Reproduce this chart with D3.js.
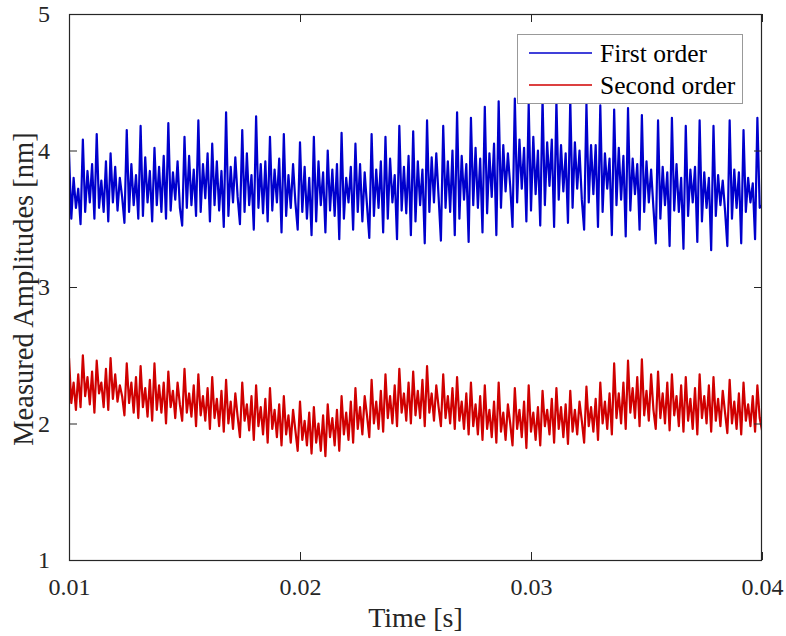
<!DOCTYPE html>
<html>
<head>
<meta charset="utf-8">
<script src="https://cdn.jsdelivr.net/npm/d3@7"></script>
<style>
  html, body { margin: 0; padding: 0; background: #fff; }
  svg { display: block; }
</style>
</head>
<body>
<svg id="chart" width="786" height="636"></svg>
<script>
// ---- data ----
const timeStart = 0.01;
const timeStep = 0.0001;
const xTicks = [0.01, 0.02, 0.03, 0.04];
const xTickLabels = ["0.01", "0.02", "0.03", "0.04"];
const yTicks = [1, 2, 3, 4, 5];
const yTickLabels = ["1", "2", "3", "4", "5"];
const seriesNames = ["First order", "Second order"];

const firstOrder = [
  3.98,3.50,3.80,3.58,3.72,3.46, 4.08,3.55,3.85,3.62,3.90,3.50, 4.12,3.58,3.78,3.55,3.92,3.48,
  3.98,3.62,3.88,3.56,3.80,3.66,3.47, 4.15,3.55,3.90,3.60,3.82,3.50,
  4.18,3.52,3.95,3.62,3.85,3.48, 4.02,3.60,3.88,3.55,3.96,3.50, 4.20,3.56,3.84,3.64,3.92,3.58,3.45,
  4.10,3.58,3.96,3.60,3.86,3.52, 4.22,3.55,3.90,3.65,3.98,3.48,
  4.05,3.60,3.92,3.56,3.85,3.44, 4.28,3.52,3.88,3.62,3.95,3.66,3.46, 4.15,3.55,3.98,3.60,3.82,3.42,
  4.25,3.58,3.90,3.54,3.92,3.48, 4.10,3.56,3.86,3.62,3.94,3.40,
  4.12,3.52,3.82,3.58,3.90,3.62,3.42, 4.06,3.55,3.88,3.50,3.80,3.38, 4.10,3.48,3.92,3.60,3.84,3.40,
  4.00,3.56,3.86,3.52,3.90,3.35, 4.13,3.50,3.80,3.62,3.88,3.42,
  4.05,3.55,3.90,3.48,3.84,3.60,3.36, 4.12,3.52,3.86,3.58,3.92,3.40, 4.10,3.50,3.94,3.62,3.82,3.35,
  4.18,3.56,3.88,3.54,3.96,3.38, 4.14,3.48,3.92,3.60,3.86,3.32,
  4.22,3.55,3.95,3.62,3.98,3.66,3.34, 4.18,3.58,3.92,3.55,4.00,3.38, 4.28,3.50,3.96,3.64,3.90,3.33,
  4.24,3.60,4.02,3.58,3.94,3.40, 4.32,3.54,3.98,3.66,4.05,3.38,
  4.36,3.58,4.04,3.70,3.98,3.74,3.44, 4.38,3.62,4.08,3.72,4.02,3.48, 4.34,3.56,4.10,3.68,4.00,3.45,
  4.38,3.60,4.06,3.74,4.08,3.44, 4.36,3.64,4.04,3.70,3.98,3.47,
  4.37,3.58,4.06,3.72,4.00,3.64,3.42, 4.34,3.62,4.04,3.68,4.04,3.44, 4.33,3.55,3.98,3.72,3.94,3.38,
  4.30,3.60,4.02,3.64,3.96,3.37, 4.31,3.56,3.94,3.68,3.90,3.42,
  4.26,3.55,3.92,3.62,3.86,3.58,3.32, 4.22,3.50,3.88,3.60,3.84,3.30, 4.24,3.56,3.90,3.55,3.80,3.28,
  4.18,3.52,3.86,3.62,3.88,3.33, 4.22,3.48,3.84,3.58,3.80,3.27,
  4.18,3.52,3.82,3.60,3.78,3.56,3.30, 4.22,3.50,3.86,3.58,3.84,3.32, 4.15,3.55,3.80,3.62,3.76,3.35,
  4.24,3.58,3.60
];

const secondOrder = [
  2.48,2.15,2.30,2.10,2.36,2.12, 2.50,2.20,2.34,2.14,2.38,2.08, 2.46,2.22,2.30,2.12,2.40,2.10,
  2.48,2.18,2.36,2.16,2.28,2.20,2.06, 2.44,2.15,2.30,2.08,2.34,2.04,
  2.42,2.12,2.26,2.05,2.32,2.02, 2.44,2.10,2.28,2.08,2.30,2.00, 2.38,2.12,2.24,2.04,2.30,2.14,2.02,
  2.40,2.08,2.22,2.05,2.28,1.98, 2.36,2.06,2.20,2.02,2.26,1.96,
  2.34,2.04,2.18,1.98,2.24,1.94, 2.32,2.00,2.16,1.96,2.22,2.05,1.90, 2.30,2.02,2.14,1.95,2.20,1.88,
  2.28,1.98,2.12,1.92,2.18,1.86, 2.26,1.96,2.10,1.90,2.14,1.84,
  2.20,1.92,2.06,1.86,2.10,1.95,1.80, 2.16,1.88,2.02,1.84,2.08,1.78, 2.12,1.86,2.00,1.80,2.06,1.76,
  2.14,1.90,2.04,1.84,2.10,1.80, 2.20,1.92,2.08,1.88,2.16,1.86,
  2.26,1.96,2.12,1.92,2.20,2.06,1.90, 2.32,2.00,2.16,1.96,2.24,1.94, 2.36,2.04,2.20,2.00,2.28,1.98,
  2.40,2.08,2.22,2.02,2.30,2.00, 2.38,2.06,2.24,2.04,2.32,1.98,
  2.42,2.08,2.22,2.02,2.28,2.12,1.98, 2.36,2.04,2.20,2.00,2.26,1.96, 2.34,2.02,2.16,1.96,2.22,1.92,
  2.30,1.98,2.14,1.92,2.20,1.88, 2.28,1.96,2.10,1.90,2.16,1.86,
  2.30,1.94,2.08,1.88,2.14,2.00,1.84, 2.26,1.96,2.10,1.90,2.16,1.82, 2.28,1.94,2.08,1.88,2.12,1.84,
  2.24,1.98,2.10,1.92,2.18,1.86, 2.26,1.96,2.12,1.90,2.14,1.85,
  2.24,1.94,2.10,1.92,2.16,2.02,1.86, 2.27,1.98,2.12,1.94,2.18,1.88, 2.30,2.00,2.16,1.96,2.22,1.92,
  2.44,2.04,2.22,2.00,2.30,1.96, 2.46,2.08,2.26,2.04,2.34,1.98,
  2.47,2.06,2.24,2.02,2.36,2.10,1.96, 2.38,2.04,2.22,2.00,2.30,1.95, 2.36,2.06,2.20,1.98,2.28,1.94,
  2.34,2.02,2.18,1.96,2.26,1.92, 2.36,2.04,2.20,2.00,2.28,1.94,
  2.34,2.02,2.18,1.98,2.24,2.08,1.93, 2.32,2.00,2.16,1.96,2.22,1.92, 2.30,2.02,2.14,1.98,2.20,1.94,
  2.28,2.04,1.95
];

const seriesColors = ["#0000cd", "#d00000"];

// ---- layout ----
const W = 786, H = 636;
const m = { left: 69, right: 762, top: 14, bottom: 560 };
const axisColor = "#262626";
const fontFamily = "'Liberation Serif', 'Times New Roman', serif";

const svg = d3.select("#chart");
svg.append("rect").attr("width", W).attr("height", H).attr("fill", "#fff");

const x = d3.scaleLinear().domain([0.01, 0.04]).range([m.left, m.right]);
const y = d3.scaleLinear().domain([1, 5]).range([m.bottom, m.top]);

svg.append("defs").append("clipPath").attr("id", "clip")
  .append("rect").attr("x", m.left).attr("y", m.top)
  .attr("width", m.right - m.left).attr("height", m.bottom - m.top);

const line = d3.line()
  .x((d, i) => x(timeStart + i * timeStep))
  .y(d => y(d));

const plot = svg.append("g").attr("clip-path", "url(#clip)");
[firstOrder, secondOrder].forEach((s, k) => {
  plot.append("path").datum(s)
    .attr("d", line)
    .attr("fill", "none")
    .attr("stroke", seriesColors[k])
    .attr("stroke-width", 2.2)
    .attr("stroke-linejoin", "round");
});

// axes with inward ticks
const tickLen = 8;
const fmtX = (d, i) => xTickLabels[i];
const fmtY = (d, i) => yTickLabels[i];

function styleAxis(g) {
  g.attr("font-family", fontFamily).attr("font-size", 24);
  g.select(".domain").remove();
  g.selectAll(".tick line").attr("stroke", axisColor).attr("stroke-width", 1);
  g.selectAll(".tick text").attr("fill", "#262626")
    .style("font-family", fontFamily).style("font-size", "24px");
}

svg.append("g").attr("transform", `translate(0,${m.bottom})`)
  .call(d3.axisBottom(x).tickValues(xTicks).tickFormat(fmtX).tickSizeInner(-tickLen).tickSizeOuter(0).tickPadding(tickLen + 10))
  .call(styleAxis);

svg.append("g").attr("transform", `translate(0,${m.top})`)
  .call(d3.axisTop(x).tickValues(xTicks).tickFormat("").tickSizeInner(-tickLen).tickSizeOuter(0))
  .call(styleAxis);

svg.append("g").attr("transform", `translate(${m.left},0)`)
  .call(d3.axisLeft(y).tickValues(yTicks).tickFormat(fmtY).tickSizeInner(-tickLen).tickSizeOuter(0).tickPadding(tickLen + 11))
  .call(styleAxis);

svg.append("g").attr("transform", `translate(${m.right},0)`)
  .call(d3.axisRight(y).tickValues(yTicks).tickFormat("").tickSizeInner(-tickLen).tickSizeOuter(0))
  .call(styleAxis);

// box
svg.append("rect")
  .attr("x", m.left + 0.5).attr("y", m.top + 0.5)
  .attr("width", m.right - m.left - 1).attr("height", m.bottom - m.top)
  .attr("fill", "none").attr("stroke", axisColor).attr("stroke-width", 1.2);

// axis labels
svg.append("text")
  .attr("x", (m.left + m.right) / 2).attr("y", 627)
  .attr("text-anchor", "middle")
  .style("font-family", fontFamily).style("font-size", "28px").attr("fill", "#262626")
  .text("Time [s]");

svg.append("text")
  .attr("transform", `translate(33,289) rotate(-90)`)
  .attr("text-anchor", "middle")
  .style("font-family", fontFamily).style("font-size", "28.5px").attr("fill", "#262626")
  .text("Measured Amplitudes [nm]");

// legend
const lg = svg.append("g").attr("transform", "translate(517,34)");
lg.append("rect").attr("x", 0.5).attr("y", 0.5).attr("width", 225).attr("height", 69)
  .attr("fill", "#fff").attr("stroke", "#999").attr("stroke-width", 1);
seriesNames.forEach((name, k) => {
  const cy = 19 + k * 32;
  lg.append("line").attr("x1", 12).attr("x2", 75).attr("y1", cy).attr("y2", cy)
    .attr("stroke", seriesColors[k]).attr("stroke-width", 1.5);
  lg.append("text").attr("x", 83).attr("y", cy + 8.5)
    .style("font-family", fontFamily).style("font-size", "25.5px").attr("fill", "#000")
    .text(name);
});
</script>
</body>
</html>
